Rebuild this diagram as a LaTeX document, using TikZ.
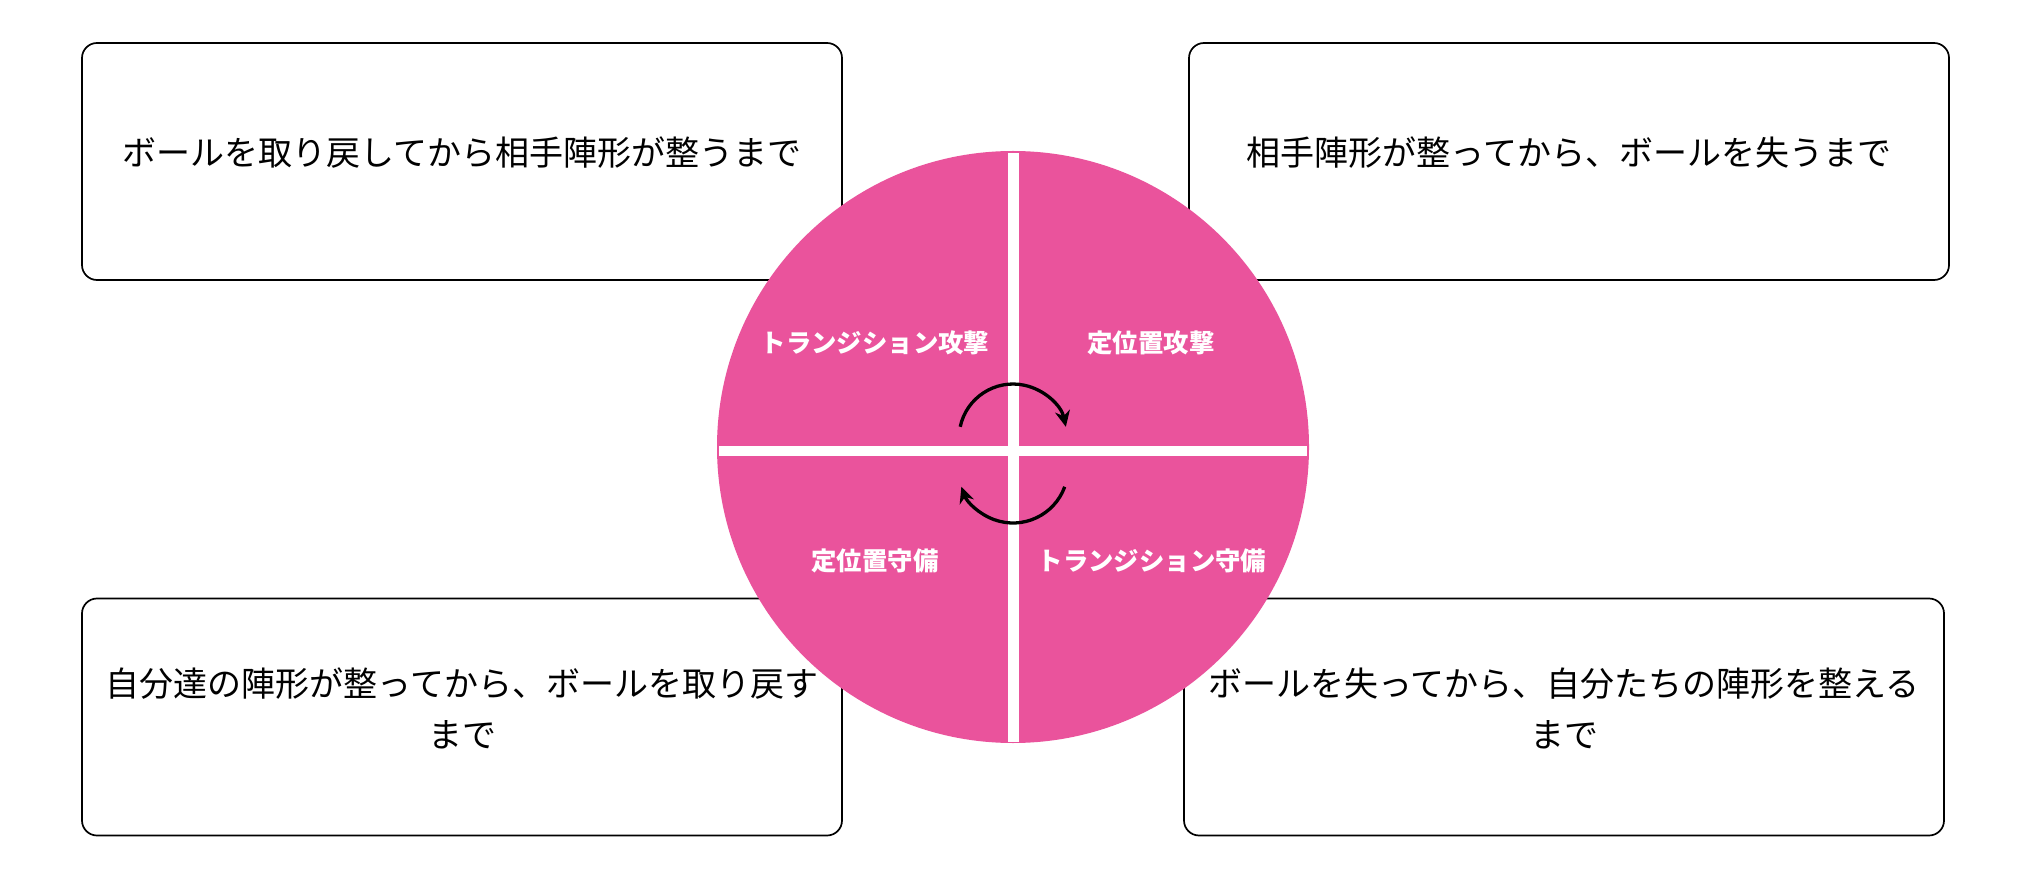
\documentclass[tikz,border=0pt]{standalone}
\usepackage{fontspec}
\newfontfamily\jpfont{Noto Sans CJK JP}
\usetikzlibrary{arrows.meta}
\definecolor{phasepink}{RGB}{234,83,156}

\begin{document}
\begin{tikzpicture}[x=0.5pt, y=0.5pt,
  phasebox/.style={rectangle, draw, rounded corners=7.5pt, line width=0.85pt, minimum width=380pt, minimum height=118.5pt},
  boxtext/.style={align=center, yshift=4.5pt, font=\jpfont\fontsize{17}{25.5}\selectfont},
  phaselabel/.style={text=white, font=\jpfont\bfseries\fontsize{12.7}{15}\selectfont},
  turnarrow/.style={line width=1.65pt, -{Stealth[length=8pt, width=7.5pt]}}]
  {
  \fill[white] (0,0) rectangle (2028,890);
  \useasboundingbox (0,0) rectangle (2028,890);

  \node[phasebox, label={[boxtext]center:ボールを取り戻してから相手陣形が整うまで}] (boxta) at (462,728.5) {};
  \node[phasebox, label={[boxtext]center:相手陣形が整ってから、ボールを失うまで}] (boxsa) at (1569,728.5) {};
  \node[phasebox, label={[boxtext]center:自分達の陣形が整ってから、ボールを取り戻す\\まで}] (boxsd) at (462,173) {};
  \node[phasebox, label={[boxtext]center:ボールを失ってから、自分たちの陣形を整える\\まで}] (boxtd) at (1564,173) {};

  \node[circle, fill=phasepink, minimum size=296pt, inner sep=0pt] (wheel) at (1013,443) {};
  \fill[white] (719,433.75) rectangle (1307,444.25);
  \fill[white] (1008,148) rectangle (1019,737);

  \node[phaselabel] (ta) at (875,547) {トランジション攻撃};
  \node[phaselabel] (sa) at (1151,547) {定位置攻撃};
  \node[phaselabel] (sd) at (875,329) {定位置守備};
  \node[phaselabel] (td) at (1152,329) {トランジション守備};

  \draw[turnarrow] (960.2,463.2) arc (168:12:54);
  \draw[turnarrow] (1064.7,403.2) arc (-20:-160:55);
}
\end{tikzpicture}
\end{document}
